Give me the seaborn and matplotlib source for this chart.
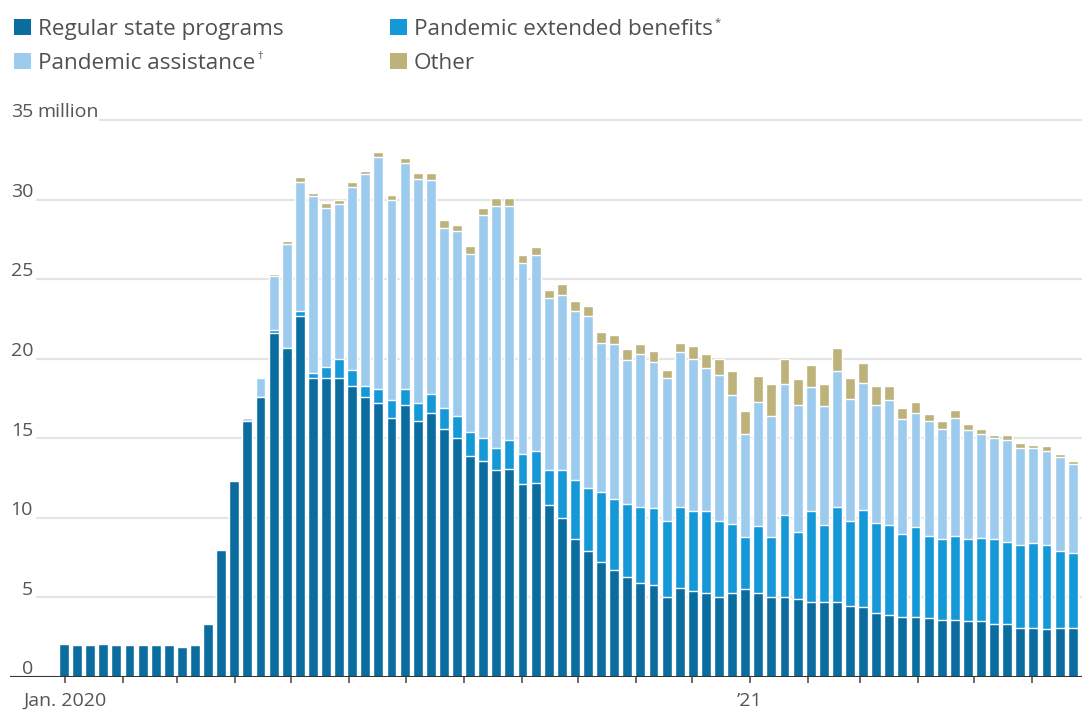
import matplotlib
matplotlib.use("Agg")
import matplotlib.pyplot as plt
import matplotlib.transforms as mtransforms
from matplotlib.patches import Rectangle
import numpy as np
import pandas as pd
import seaborn as sns

# Weekly continuing claims, millions (week ending Saturday)
weeks = pd.date_range("2020-01-04", periods=78, freq="7D")

regular = [2.1, 2.0, 2.0, 2.1, 2.0, 2.0, 2.0, 2.0, 2.0, 1.9,
           2.0, 3.3, 8.0, 12.3, 16.1, 17.6, 21.6, 20.7, 22.7, 18.8,
           18.8, 18.8, 18.3, 17.6, 17.2, 16.3, 17.1, 16.1, 16.6, 15.6,
           15.0, 13.9, 13.6, 13.0, 13.1, 12.1, 12.2, 10.8, 10.0, 8.7,
           7.9, 7.2, 6.7, 6.3, 5.9, 5.8, 5.0, 5.6, 5.4, 5.3,
           5.0, 5.3, 5.5, 5.3, 5.0, 5.0, 4.9, 4.7, 4.7, 4.7,
           4.45, 4.4, 4.05, 3.9, 3.8, 3.75, 3.7, 3.6, 3.6, 3.5,
           3.5, 3.35, 3.35, 3.1, 3.1, 3.0, 3.1, 3.1]
extended = [0, 0, 0, 0, 0, 0, 0, 0, 0, 0,
            0, 0, 0, 0, 0, 0, 0.2, 0, 0.3, 0.3,
            0.7, 1.2, 1.0, 0.7, 0.9, 1.1, 1.0, 1.1, 1.2, 1.3,
            1.4, 1.5, 1.4, 1.4, 1.8, 1.9, 2.0, 2.2, 3.0, 3.7,
            4.0, 4.4, 4.5, 4.6, 4.8, 4.8, 4.8, 5.1, 5.0, 5.1,
            4.8, 4.3, 3.3, 4.2, 3.8, 5.2, 4.2, 5.7, 4.85, 6.0,
            5.35, 6.1, 5.65, 5.65, 5.2, 5.65, 5.15, 5.1, 5.25, 5.2,
            5.25, 5.35, 5.15, 5.2, 5.3, 5.3, 4.8, 4.7]
assistance = [0, 0, 0, 0, 0, 0, 0, 0, 0, 0,
              0, 0, 0, 0, 0.2, 1.2, 3.4, 6.5, 8.1, 11.1,
              10.0, 9.7, 11.5, 13.3, 14.6, 12.6, 14.2, 14.1, 13.4, 11.3,
              11.6, 11.2, 14.0, 15.2, 14.7, 12.0, 12.3, 10.8, 11.0, 10.6,
              10.8, 9.4, 9.7, 9.0, 9.6, 9.2, 9.0, 9.7, 9.6, 9.0,
              9.2, 8.1, 6.5, 7.8, 7.6, 8.2, 8.0, 7.8, 7.45, 8.5,
              7.7, 8.0, 7.4, 7.85, 7.2, 7.2, 7.25, 6.9, 7.45, 6.8,
              6.55, 6.3, 6.4, 6.1, 6.0, 5.9, 5.9, 5.6]
other = [0, 0, 0, 0, 0, 0, 0, 0, 0, 0,
         0, 0, 0, 0, 0, 0, 0.1, 0.2, 0.3, 0.2,
         0.3, 0.3, 0.3, 0.2, 0.3, 0.3, 0.3, 0.4, 0.5, 0.5,
         0.4, 0.5, 0.5, 0.5, 0.5, 0.5, 0.5, 0.5, 0.7, 0.6,
         0.6, 0.7, 0.6, 0.7, 0.6, 0.7, 0.5, 0.6, 0.8, 0.9,
         1.0, 1.5, 1.4, 1.6, 2.0, 1.6, 1.6, 1.4, 1.4, 1.5,
         1.3, 1.2, 1.2, 0.9, 0.7, 0.7, 0.4, 0.5, 0.5, 0.4,
         0.3, 0.2, 0.3, 0.3, 0.2, 0.3, 0.2, 0.2]

series_labels = ["Regular state programs", "Pandemic extended benefits",
                 "Pandemic assistance", "Other"]
series_marks = ["", "*", "\u2020", ""]
colors = ["#0b6d9f", "#1598d8", "#9dcbee", "#bdb27a"]

y_ticks = [0, 5, 10, 15, 20, 25, 30, 35]
x_labels = {pd.Timestamp("2020-01-01"): "Jan. 2020",
            pd.Timestamp("2021-01-01"): "\u201921"}

sns.set_theme(style="white")
plt.rcParams["font.family"] = ["Open Sans", "DejaVu Sans"]

W, H = 1082, 715
fig = plt.figure(figsize=(W / 100, H / 100), dpi=100)
fig.patch.set_facecolor("white")

# pixel geometry of the plotting area
px_left, px_right, px_zero = 10, 1082, 677
px_per_unit = (677 - 120) / 35.0
y_top = 36.0
ax_h = y_top * px_per_unit
ax = fig.add_axes([px_left / W, (H - px_zero) / H,
                   (px_right - px_left) / W, ax_h / H])
ax.set_facecolor("white")

week_keys = weeks.strftime("%Y-%m-%d")
layers = np.cumsum(np.array([regular, extended, assistance, other]), axis=0)

# stacked bars: draw cumulative totals from the top layer down
for level in range(3, -1, -1):
    sns.barplot(x=list(week_keys), y=layers[level], order=list(week_keys),
                color=colors[level], saturation=1, width=0.76,
                edgecolor="white", linewidth=1.0, errorbar=None, ax=ax,
                zorder=2)

bar_step = 13.1
x_min = -(64 - px_left) / bar_step
x_max = x_min + (px_right - px_left) / bar_step
ax.set_xlim(x_min, x_max)
ax.set_ylim(0, y_top)

for s in ax.spines.values():
    s.set_visible(False)

# horizontal gridlines
span = px_right - px_left
for v in y_ticks[1:]:
    start = (100 - px_left) / span if v == 35 else (37 - px_left) / span
    ax.axhline(v, xmin=start, xmax=1, color="#e4e4e4", lw=1.6, zorder=0)
ax.axhline(0, color="#333333", lw=1.5, zorder=5)

# y labels sit just above their gridlines
ytrans = mtransforms.blended_transform_factory(ax.transAxes, ax.transData)
lab_x = (33 - px_left) / span
for v in y_ticks:
    ax.text(lab_x, v + 0.17, str(v), transform=ytrans, ha="right",
            va="baseline", fontsize=14, color="#555555")
ax.text((37 - px_left) / span, 35 + 0.17, "million", transform=ytrans,
        ha="left", va="baseline", fontsize=14, color="#555555")
ax.set_yticks([])
ax.set_ylabel("")
ax.set_xlabel("")

# monthly ticks along the baseline
months = pd.date_range("2020-01-01", "2021-06-01", freq="MS")
tick_pos = [(m - weeks[0]).days / 7 + 0.5 for m in months]
tick_lab = [x_labels.get(m, "") for m in months]
ax.set_xticks(tick_pos)
ax.set_xticklabels(tick_lab)
ax.tick_params(axis="x", which="major", length=4, width=1.1,
               color="#444444", direction="out", bottom=True,
               labelsize=14, labelcolor="#555555", pad=7)

# legend drawn as swatches and text in figure pixels
legend_pos = [(14, 35), (390, 35), (14, 69), (390, 69)]
renderer = fig.canvas.get_renderer()
for (lx, base), lab, mark, col in zip(legend_pos, series_labels,
                                      series_marks, colors):
    fig.patches.append(Rectangle((lx / W, (H - base) / H), 17 / W, 16 / H,
                                 transform=fig.transFigure,
                                 facecolor=col, edgecolor="none"))
    t = fig.text((lx + 24) / W, (H - base) / H, lab, fontsize=16.2,
                 color="#505050", ha="left", va="baseline")
    if mark:
        bb = t.get_window_extent(renderer)
        fig.text(bb.x1 / W + 1.5 / W, (H - base + 10) / H, mark,
                 fontsize=8, color="#505050", ha="left", va="baseline")

fig.savefig("out.png", dpi=100, facecolor="white")
